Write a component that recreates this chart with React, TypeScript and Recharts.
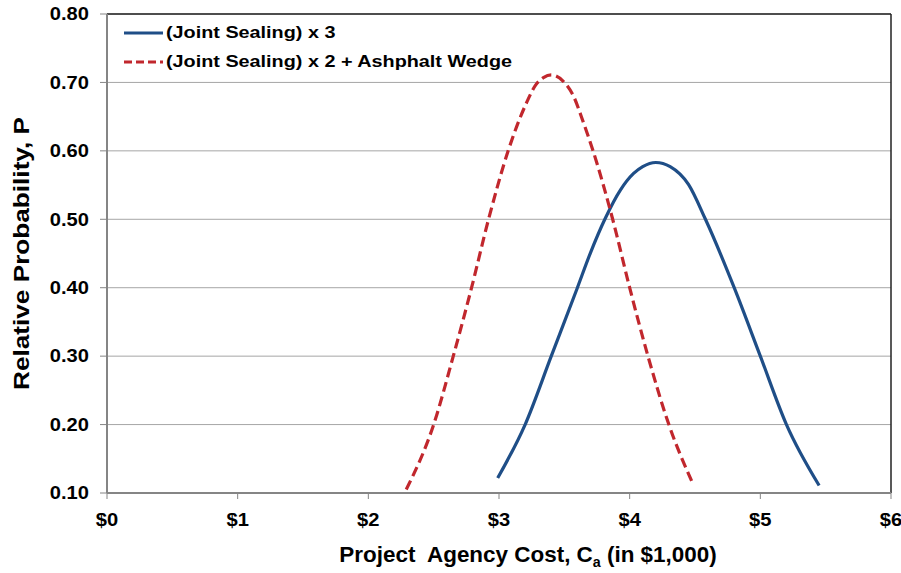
import React from 'react';
import {
  LineChart,
  Line,
  XAxis,
  YAxis,
  CartesianGrid,
  Legend,
  ReferenceLine,
} from 'recharts';

// Project agency cost (in $1,000) vs relative probability
const sealingX3Cost = [2.99, 3.2, 3.4, 3.6, 3.7, 3.81, 3.93, 4.03, 4.1, 4.2, 4.31, 4.45, 4.58, 4.8, 5.0, 5.2, 5.45];
const sealingX3Prob = [0.122, 0.2, 0.3, 0.4, 0.451, 0.5, 0.543, 0.567, 0.577, 0.583, 0.577, 0.551, 0.5, 0.4, 0.3, 0.2, 0.111];

const wedgeCost = [2.29, 2.5, 2.65, 2.79, 2.92, 3.07, 3.21, 3.28, 3.34, 3.4, 3.49, 3.57, 3.645, 3.72, 3.87, 4.0, 4.14, 4.3, 4.48];
const wedgeProb = [0.105, 0.2, 0.3, 0.4, 0.5, 0.6, 0.67, 0.696, 0.707, 0.711, 0.702, 0.68, 0.642, 0.6, 0.5, 0.4, 0.3, 0.2, 0.115];

const xTicks = [0, 1, 2, 3, 4, 5, 6];
const yTicks = [0.1, 0.2, 0.3, 0.4, 0.5, 0.6, 0.7, 0.8];

const FONT = '"Liberation Sans", Arial, sans-serif';
const BLUE = '#1f4e87';
const RED = '#c1272d';
const AXIS_GRAY = '#858585';

const toPoints = (xs: number[], ys: number[]) => xs.map((x, i) => ({ x, y: ys[i] }));

const series = [
  { key: 'x3', name: '(Joint Sealing) x 3', color: BLUE, dash: undefined as string | undefined, data: toPoints(sealingX3Cost, sealingX3Prob) },
  { key: 'wedge', name: '(Joint Sealing) x 2 + Ashphalt Wedge', color: RED, dash: '10 5', data: toPoints(wedgeCost, wedgeProb) },
];

// the original export is stretched sideways a bit, so text gets a horizontal scale
const XTick = ({ x, y, payload }: any) => (
  <g transform={`translate(${x},${y}) scale(1.12,1)`}>
    <text x={0} y={0} dy="0.71em" textAnchor="middle" fontFamily={FONT} fontWeight={700} fontSize={18} fill="#000">
      {`$${payload.value}`}
    </text>
  </g>
);

const YTick = ({ x, y, payload }: any) => (
  <g transform={`translate(${x},${y}) scale(1.15,1)`}>
    <text x={0} y={0} dy="0.36em" textAnchor="end" fontFamily={FONT} fontWeight={700} fontSize={17.5} fill="#000">
      {Number(payload.value).toFixed(2)}
    </text>
  </g>
);

const LegendContent = () => (
  <div style={{ fontFamily: FONT, fontWeight: 700, fontSize: 16.5, color: '#000' }}>
    {series.map((s) => (
      <div key={s.key} style={{ display: 'flex', alignItems: 'center', height: 29 }}>
        <svg width={43} height={10} style={{ marginRight: 1, flex: 'none' }}>
          <line x1={2} y1={5} x2={41} y2={5} stroke={s.color} strokeWidth={3} strokeDasharray={s.dash ? '8 4' : undefined} />
        </svg>
        <span style={{ whiteSpace: 'nowrap', display: 'inline-block', transform: 'scaleX(1.2)', transformOrigin: 'left center' }}>
          {s.name}
        </span>
      </div>
    ))}
  </div>
);

const XTitle = (props: any) => {
  const { viewBox } = props;
  const cx = viewBox.x + viewBox.width / 2 + 29;
  const y = viewBox.y + 69;
  return (
    <g transform={`translate(${cx},${y}) scale(1.02,1)`}>
      <text x={0} y={0} textAnchor="middle" xmlSpace="preserve" fontFamily={FONT} fontWeight={700} fontSize={22} fill="#000">
        <tspan>{'Project  Agency Cost, C'}</tspan>
        <tspan fontSize={14} dy={5}>a</tspan>
        <tspan dy={-5}>{' (in $1,000)'}</tspan>
      </text>
    </g>
  );
};

const YTitle = (props: any) => {
  const { viewBox } = props;
  const y = viewBox.y + viewBox.height / 2;
  return (
    <g transform={`translate(21,${y}) rotate(-90) scale(1.19,1)`}>
      <text x={0} y={0} textAnchor="middle" dominantBaseline="central" fontFamily={FONT} fontWeight={700} fontSize={22} fill="#000">
        Relative Probability, P
      </text>
    </g>
  );
};

export default function App() {
  return (
    <div style={{ position: 'absolute', left: 0, top: 0, width: 901, height: 573, background: '#fff' }}>
      <LineChart
        width={901}
        height={573}
        margin={{ top: 14, right: 10, bottom: 0, left: 10 }}
        style={{ fontFamily: FONT }}
      >
        <CartesianGrid horizontal vertical={false} stroke="#a6a6a6" strokeWidth={1} />
        <XAxis
          type="number"
          dataKey="x"
          domain={[0, 6]}
          ticks={xTicks}
          allowDataOverflow
          height={80}
          tick={<XTick />}
          tickSize={6}
          tickMargin={14}
          axisLine={{ stroke: AXIS_GRAY, strokeWidth: 2 }}
          tickLine={{ stroke: AXIS_GRAY }}
          label={{ content: XTitle }}
        />
        <YAxis
          type="number"
          dataKey="y"
          domain={[0.1, 0.8]}
          ticks={yTicks}
          allowDataOverflow
          width={97}
          tick={<YTick />}
          tickSize={7}
          tickMargin={11}
          axisLine={{ stroke: AXIS_GRAY, strokeWidth: 2 }}
          tickLine={{ stroke: AXIS_GRAY }}
          label={{ content: YTitle }}
        />
        <ReferenceLine y={0.8} stroke="#222" strokeWidth={1.5} />
        <ReferenceLine x={6} stroke="#222" strokeWidth={1.5} />
        {series.map((s) => (
          <Line
            key={s.key}
            data={s.data}
            dataKey="y"
            name={s.name}
            type="monotone"
            stroke={s.color}
            strokeWidth={3.2}
            strokeDasharray={s.dash}
            dot={false}
            activeDot={false}
            isAnimationActive={false}
          />
        ))}
        <Legend
          layout="vertical"
          align="center"
          verticalAlign="middle"
          content={<LegendContent />}
          wrapperStyle={{ left: 122, top: 18, width: 440 }}
        />
      </LineChart>
    </div>
  );
}
